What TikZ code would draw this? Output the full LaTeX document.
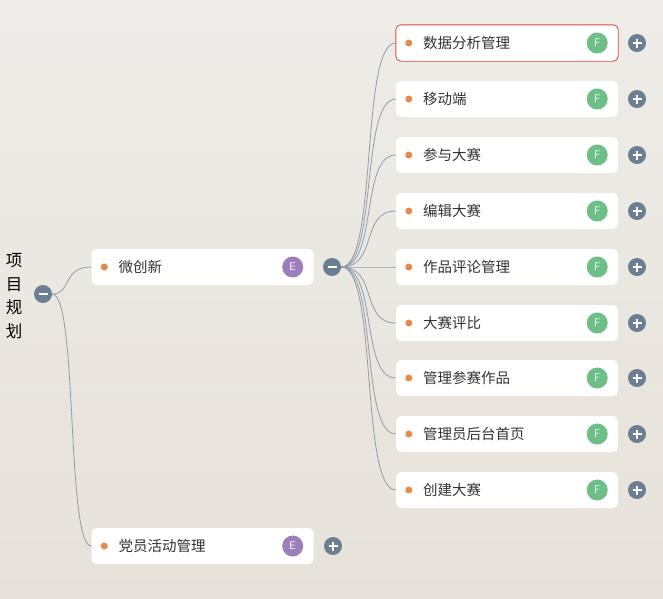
\documentclass[tikz,border=0pt]{standalone}
\usepackage{fontspec}
\usepackage{xcolor}
\usepackage{tikz}
\usetikzlibrary{calc,positioning}
\newfontfamily\cjk{Noto Sans CJK SC}
\definecolor{bgtop}{HTML}{EEECE8}
\definecolor{bgbot}{HTML}{E7E2D9}
\definecolor{togblue}{HTML}{6C7E92}
\definecolor{linegrey}{HTML}{8E9DAA}
\definecolor{dotorange}{HTML}{E8894A}
\definecolor{badgegreen}{HTML}{6DBF87}
\definecolor{badgepurple}{HTML}{9C7FBA}
\definecolor{textgrey}{HTML}{333333}
\definecolor{selred}{HTML}{D2504A}

\tikzset{
  topicbox/.style={rectangle, rounded corners=5pt, fill=white, minimum width=222pt, minimum height=36pt, inner sep=0pt},
  topictext/.style={anchor=west, inner sep=0pt, text=textgrey, font=\cjk\fontsize{14.5}{16}\selectfont},
  badge/.style={circle, minimum size=21pt, inner sep=0pt, text=white, font=\sffamily\fontsize{11}{11}\selectfont},
  toggle/.style={circle, fill=togblue, minimum size=18pt, inner sep=0pt},
  minus/.style={toggle, path picture={\draw[white, line width=1.6pt] ([xshift=-4.5pt]path picture bounding box.center) -- ([xshift=4.5pt]path picture bounding box.center);}},
  plus/.style={toggle, path picture={\draw[white, line width=1.6pt] ([xshift=-4.5pt]path picture bounding box.center) -- ([xshift=4.5pt]path picture bounding box.center) ([yshift=-4.5pt]path picture bounding box.center) -- ([yshift=4.5pt]path picture bounding box.center);}},
  branch/.style={draw=linegrey, line width=0.8pt}
}

\newcommand{\topic}[6]{% name, x, y, text, badge colour, badge letter
  \node[topicbox] (#1) at (#2,#3) {};
  \fill[dotorange] ([xshift=13pt]#1.west) circle (3.5pt);
  \node[topictext] (#1-txt) at ([xshift=27pt]#1.west) {#4};
  \node[badge, fill=#5] (#1-badge) at ([xshift=-21pt]#1.east) {#6};
}

\begin{document}
\begin{tikzpicture}[x=1pt,y=-1pt]
  \useasboundingbox (0,0) rectangle (663,598);
  \shade[top color=bgtop, bottom color=bgbot] (0,0) rectangle (663,598);

  % root
  \node[align=center, inner sep=0pt, text=black, font=\cjk\fontsize{16.5}{23.5}\selectfont] (root) at (14,296) {项\\目\\规\\划};
  \node[minus] (root-tog) at (43,294) {};

  % first level
  \topic{wcx}{202.5}{267}{微创新}{badgepurple}{E}
  \node[minus] (wcx-tog) at (332,267) {};
  \topic{dyhd}{202.5}{546}{党员活动管理}{badgepurple}{E}
  \node[plus] (dyhd-tog) at (333,546) {};

  \draw[branch] (root-tog.east) .. controls (72,294) and (62,267) .. (wcx.west);
  \draw[branch] (root-tog.east) .. controls (78,294) and (66,546) .. (dyhd.west);

  % second level
  \foreach \name/\ypos/\label in {r1/43/数据分析管理, r2/99/移动端, r3/155/参与大赛, r4/211/编辑大赛, r5/267/作品评论管理, r6/323/大赛评比, r7/378/管理参赛作品, r8/434/管理员后台首页, r9/490/创建大赛}{
    \topic{\name}{507}{\ypos}{\label}{badgegreen}{F}
    \node[plus] (\name-tog) at (637,\ypos) {};
    \draw[branch] (wcx-tog.east) .. controls (378,267) and (360,\ypos) .. (\name.west);
  }
  \draw[selred, line width=0.9pt, rounded corners=5pt] (r1.south west) rectangle (r1.north east);
\end{tikzpicture}
\end{document}
